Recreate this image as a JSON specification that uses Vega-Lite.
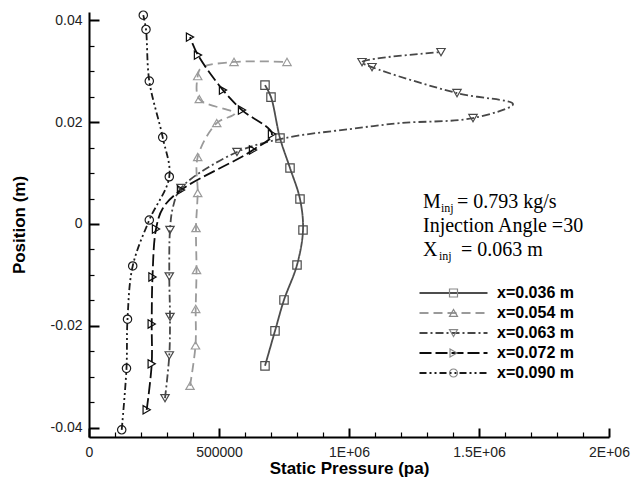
{
  "$schema": "https://vega.github.io/schema/vega-lite/v6.json",
  "autosize": {"type": "none"},
  "padding": {"left": 89, "top": 12, "right": 22, "bottom": 45},
  "width": 520,
  "height": 425,
  "background": "white",
  "config": {
    "view": {"stroke": null},
    "font": "Liberation Sans",
    "axis": {
      "grid": false,
      "domainColor": "#000",
      "domainWidth": 2,
      "tickColor": "#000",
      "labelColor": "#222",
      "labelFont": "Liberation Sans",
      "labelFontSize": 14,
      "labelOverlap": false,
      "labelFlush": false,
      "labelBound": false,
      "titleFont": "Liberation Sans",
      "titleFontSize": 17,
      "titleFontWeight": "bold",
      "titleColor": "#000"
    }
  },
  "resolve": {"axis": {"x": "independent", "y": "independent"}},
  "datasets": {
    "profiles": [
      {"s": "x=0.036 m", "i": 1, "p": 676900, "y": -0.02784, "m": 1},
      {"s": "x=0.036 m", "i": 2, "p": 715400, "y": -0.02098, "m": 1},
      {"s": "x=0.036 m", "i": 3, "p": 750000, "y": -0.0149, "m": 1},
      {"s": "x=0.036 m", "i": 4, "p": 800000, "y": -0.00804, "m": 1},
      {"s": "x=0.036 m", "i": 5, "p": 823100, "y": -0.00118, "m": 1},
      {"s": "x=0.036 m", "i": 6, "p": 811500, "y": 0.0049, "m": 1},
      {"s": "x=0.036 m", "i": 7, "p": 773100, "y": 0.01098, "m": 1},
      {"s": "x=0.036 m", "i": 8, "p": 734600, "y": 0.01686, "m": 1},
      {"s": "x=0.036 m", "i": 9, "p": 700000, "y": 0.0249, "m": 1},
      {"s": "x=0.036 m", "i": 10, "p": 676900, "y": 0.02725, "m": 1},

      {"s": "x=0.054 m", "i": 1, "p": 388500, "y": -0.03176, "m": 1},
      {"s": "x=0.054 m", "i": 2, "p": 409600, "y": -0.02382, "m": 1},
      {"s": "x=0.054 m", "i": 3, "p": 410400, "y": -0.01667, "m": 1},
      {"s": "x=0.054 m", "i": 4, "p": 413500, "y": -0.00902, "m": 1},
      {"s": "x=0.054 m", "i": 5, "p": 411500, "y": -0.00078, "m": 1},
      {"s": "x=0.054 m", "i": 6, "p": 418100, "y": 0.00608, "m": 1},
      {"s": "x=0.054 m", "i": 7, "p": 418100, "y": 0.01314, "m": 1},
      {"s": "x=0.054 m", "i": 8, "p": 491200, "y": 0.0198, "m": 1},
      {"s": "x=0.054 m", "i": 9, "p": 560000, "y": 0.0217, "m": 0},
      {"s": "x=0.054 m", "i": 10, "p": 424200, "y": 0.02451, "m": 1},
      {"s": "x=0.054 m", "i": 11, "p": 418100, "y": 0.02902, "m": 1},
      {"s": "x=0.054 m", "i": 12, "p": 430800, "y": 0.03059, "m": 0},
      {"s": "x=0.054 m", "i": 13, "p": 557700, "y": 0.0318, "m": 1},
      {"s": "x=0.054 m", "i": 14, "p": 761500, "y": 0.0318, "m": 1},

      {"s": "x=0.063 m", "i": 1, "p": 292300, "y": -0.03418, "m": 1},
      {"s": "x=0.063 m", "i": 2, "p": 308800, "y": -0.02578, "m": 1},
      {"s": "x=0.063 m", "i": 3, "p": 311500, "y": -0.01824, "m": 1},
      {"s": "x=0.063 m", "i": 4, "p": 308800, "y": -0.01029, "m": 1},
      {"s": "x=0.063 m", "i": 5, "p": 311500, "y": -0.00118, "m": 1},
      {"s": "x=0.063 m", "i": 6, "p": 323100, "y": 0.00333, "m": 0},
      {"s": "x=0.063 m", "i": 7, "p": 353800, "y": 0.00706, "m": 1},
      {"s": "x=0.063 m", "i": 8, "p": 569200, "y": 0.01412, "m": 1},
      {"s": "x=0.063 m", "i": 9, "p": 753800, "y": 0.01686, "m": 0},
      {"s": "x=0.063 m", "i": 10, "p": 1003800, "y": 0.01863, "m": 0},
      {"s": "x=0.063 m", "i": 11, "p": 1196200, "y": 0.0198, "m": 0},
      {"s": "x=0.063 m", "i": 12, "p": 1476900, "y": 0.02078, "m": 1},
      {"s": "x=0.063 m", "i": 13, "p": 1630800, "y": 0.02353, "m": 0},
      {"s": "x=0.063 m", "i": 14, "p": 1415400, "y": 0.02569, "m": 1},
      {"s": "x=0.063 m", "i": 15, "p": 1088500, "y": 0.03078, "m": 1},
      {"s": "x=0.063 m", "i": 16, "p": 1050000, "y": 0.03176, "m": 1},
      {"s": "x=0.063 m", "i": 17, "p": 1353800, "y": 0.03373, "m": 1},

      {"s": "x=0.072 m", "i": 1, "p": 221900, "y": -0.03647, "m": 1},
      {"s": "x=0.072 m", "i": 2, "p": 241200, "y": -0.02745, "m": 1},
      {"s": "x=0.072 m", "i": 3, "p": 241200, "y": -0.01961, "m": 1},
      {"s": "x=0.072 m", "i": 4, "p": 244200, "y": -0.01039, "m": 1},
      {"s": "x=0.072 m", "i": 5, "p": 257700, "y": -0.00098, "m": 1},
      {"s": "x=0.072 m", "i": 6, "p": 284600, "y": 0.00314, "m": 0},
      {"s": "x=0.072 m", "i": 7, "p": 353800, "y": 0.00667, "m": 1},
      {"s": "x=0.072 m", "i": 8, "p": 630800, "y": 0.01451, "m": 1},
      {"s": "x=0.072 m", "i": 9, "p": 703800, "y": 0.01765, "m": 1},
      {"s": "x=0.072 m", "i": 10, "p": 588500, "y": 0.02235, "m": 1},
      {"s": "x=0.072 m", "i": 11, "p": 515400, "y": 0.02627, "m": 1},
      {"s": "x=0.072 m", "i": 12, "p": 419200, "y": 0.03314, "m": 1},
      {"s": "x=0.072 m", "i": 13, "p": 388500, "y": 0.03667, "m": 1},

      {"s": "x=0.090 m", "i": 1, "p": 125800, "y": -0.04039, "m": 1},
      {"s": "x=0.090 m", "i": 2, "p": 144200, "y": -0.02833, "m": 1},
      {"s": "x=0.090 m", "i": 3, "p": 148100, "y": -0.01869, "m": 1},
      {"s": "x=0.090 m", "i": 4, "p": 168100, "y": -0.00824, "m": 1},
      {"s": "x=0.090 m", "i": 5, "p": 231900, "y": 0.00078, "m": 1},
      {"s": "x=0.090 m", "i": 6, "p": 308800, "y": 0.00927, "m": 1},
      {"s": "x=0.090 m", "i": 7, "p": 283500, "y": 0.017, "m": 1},
      {"s": "x=0.090 m", "i": 8, "p": 231900, "y": 0.02804, "m": 1},
      {"s": "x=0.090 m", "i": 9, "p": 219200, "y": 0.03818, "m": 1},
      {"s": "x=0.090 m", "i": 10, "p": 208800, "y": 0.04098, "m": 1}
    ]
  },
  "data": {"name": "profiles"},
  "layer": [
    {
      "mark": {"type": "line", "interpolate": "catmull-rom", "strokeWidth": 1.8},
      "encoding": {
        "x": {
          "field": "p", "type": "quantitative",
          "scale": {"domain": [0, 2000000], "nice": false, "zero": false},
          "axis": {
            "orient": "bottom",
            "title": "Static Pressure (pa)",
            "values": [0, 500000, 1000000, 1500000, 2000000],
            "labelExpr": "datum.value == 0 ? '0' : datum.value == 500000 ? '500000' : (datum.value / 1000000) + 'E+06'",
            "labelFontSize": 14,
            "labelOverlap": false,
            "ticks": false,
            "tickSize": 0,
            "labelPadding": 8,
            "titlePadding": 1
          }
        },
        "y": {
          "field": "y", "type": "quantitative",
          "scale": {"domain": [-0.0418, 0.0416], "nice": false, "zero": false},
          "axis": {
            "orient": "left",
            "title": "Position (m)",
            "values": [-0.04, -0.02, 0, 0.02, 0.04],
            "labelExpr": "replace(format(datum.value, ''), '\u2212', '-')",
            "labelFontSize": 14,
            "labelOverlap": false,
            "ticks": false,
            "tickSize": 0,
            "labelPadding": 7,
            "titlePadding": 22
          }
        },
        "order": {"field": "i", "type": "quantitative"},
        "color": {
          "field": "s", "type": "nominal",
          "scale": {
            "domain": ["x=0.036 m", "x=0.054 m", "x=0.063 m", "x=0.072 m", "x=0.090 m"],
            "range": ["#4d4d4d", "#9a9a9a", "#474747", "#0d0d0d", "#1a1a1a"]
          },
          "legend": {
            "orient": "none", "legendX": 356.5, "legendY": 273, "padding": 0,
            "title": null, "symbolType": "M-8.5,0H8.5", "symbolSize": 64, "symbolStrokeWidth": 1.8,
            "labelFont": "Liberation Sans", "labelFontSize": 16, "labelFontWeight": "bold",
            "labelColor": "#000", "labelOffset": 35.5, "rowPadding": 4, "labelLimit": 0
          }
        },
        "strokeDash": {
          "field": "s", "type": "nominal",
          "scale": {
            "domain": ["x=0.036 m", "x=0.054 m", "x=0.063 m", "x=0.072 m", "x=0.090 m"],
            "range": [[1, 0], [9, 5], [8, 3, 2, 3], [12, 4], [7, 3, 2, 3, 2, 3]]
          },
          "legend": {
            "orient": "none", "legendX": 356.5, "legendY": 273, "padding": 0,
            "title": null, "symbolType": "M-8.5,0H8.5", "symbolSize": 64, "symbolStrokeWidth": 1.8,
            "labelFont": "Liberation Sans", "labelFontSize": 16, "labelFontWeight": "bold",
            "labelColor": "#000", "labelOffset": 35.5, "rowPadding": 4, "labelLimit": 0
          }
        }
      }
    },
    {
      "transform": [{"filter": "datum.m == 1"}],
      "mark": {"type": "point", "filled": false, "strokeWidth": 1.2, "size": 70, "opacity": 1},
      "encoding": {
        "x": {
          "field": "p", "type": "quantitative",
          "axis": {
            "orient": "top", "offset": -425, "title": null, "labels": false, "domain": false,
            "values": [0, 500000, 1000000, 1500000, 2000000],
            "tickSize": 9, "tickWidth": 2
          }
        },
        "y": {
          "field": "y", "type": "quantitative",
          "axis": {
            "orient": "right", "offset": -520, "title": null, "labels": false, "domain": false,
            "values": [-0.04, -0.02, 0, 0.02, 0.04],
            "tickSize": 10, "tickWidth": 2
          }
        },
        "color": {"field": "s", "type": "nominal"},
        "shape": {
          "field": "s", "type": "nominal",
          "scale": {"range": ["square", "triangle-up", "triangle-down", "triangle-right", "circle"]},
          "legend": {
            "orient": "none", "legendX": 356.5, "legendY": 273, "padding": 0,
            "title": null, "symbolSize": 64, "symbolStrokeWidth": 1.2,
            "symbolFillColor": "transparent",
            "labelFont": "Liberation Sans", "labelFontSize": 16, "labelFontWeight": "bold",
            "labelOpacity": 0, "labelOffset": 35.5, "rowPadding": 4, "labelLimit": 0,
            "encode": {"symbols": {"stroke": {"value": {"expr": "scale('color', datum.value)"}}, "fill": {"value": "transparent"}}}
          }
        }
      }
    },
    {
      "data": {"values": [{}]},
      "mark": {"type": "text", "align": "left", "baseline": "alphabetic", "font": "Liberation Serif", "fontSize": 20, "color": "#000", "text": "M"},
      "encoding": {
        "x": {
          "datum": 1284600, "type": "quantitative",
          "axis": {
            "orient": "top", "offset": -425, "title": null, "labels": false, "domain": false,
            "values": [100000, 200000, 300000, 400000, 600000, 700000, 800000, 900000, 1100000, 1200000, 1300000, 1400000, 1600000, 1700000, 1800000, 1900000],
            "tickSize": 5, "tickWidth": 1.2
          }
        },
        "y": {
          "datum": 0.00314, "type": "quantitative",
          "axis": {
            "orient": "right", "offset": -520, "title": null, "labels": false, "domain": false,
            "values": [-0.035, -0.03, -0.025, -0.015, -0.01, -0.005, 0.005, 0.01, 0.015, 0.025, 0.03, 0.035],
            "tickSize": 5, "tickWidth": 1.2
          }
        }
      }
    },
    {
      "data": {"values": [{}]},
      "mark": {"type": "text", "align": "left", "baseline": "alphabetic", "font": "Liberation Serif", "fontSize": 12, "color": "#000", "text": "inj", "dx": 18, "dy": 4},
      "encoding": {"x": {"datum": 1284600, "type": "quantitative", "axis": null}, "y": {"datum": 0.00314, "type": "quantitative", "axis": null}}
    },
    {
      "data": {"values": [{}]},
      "mark": {"type": "text", "align": "left", "baseline": "alphabetic", "font": "Liberation Serif", "fontSize": 20, "color": "#000", "text": "= 0.793 kg/s", "dx": 34},
      "encoding": {"x": {"datum": 1284600, "type": "quantitative", "axis": null}, "y": {"datum": 0.00314, "type": "quantitative", "axis": null}}
    },
    {
      "data": {"values": [{}]},
      "mark": {"type": "text", "align": "left", "baseline": "alphabetic", "font": "Liberation Serif", "fontSize": 20, "color": "#000", "text": "Injection Angle =30"},
      "encoding": {"x": {"datum": 1284600, "type": "quantitative", "axis": null}, "y": {"datum": -0.00157, "type": "quantitative", "axis": null}}
    },
    {
      "data": {"values": [{}]},
      "mark": {"type": "text", "align": "left", "baseline": "alphabetic", "font": "Liberation Serif", "fontSize": 20, "color": "#000", "text": "X"},
      "encoding": {"x": {"datum": 1284600, "type": "quantitative", "axis": null}, "y": {"datum": -0.00628, "type": "quantitative", "axis": null}}
    },
    {
      "data": {"values": [{}]},
      "mark": {"type": "text", "align": "left", "baseline": "alphabetic", "font": "Liberation Serif", "fontSize": 12, "color": "#000", "text": "inj", "dx": 16, "dy": 4},
      "encoding": {"x": {"datum": 1284600, "type": "quantitative", "axis": null}, "y": {"datum": -0.00628, "type": "quantitative", "axis": null}}
    },
    {
      "data": {"values": [{}]},
      "mark": {"type": "text", "align": "left", "baseline": "alphabetic", "font": "Liberation Serif", "fontSize": 20, "color": "#000", "text": "=  0.063 m", "dx": 38},
      "encoding": {"x": {"datum": 1284600, "type": "quantitative", "axis": null}, "y": {"datum": -0.00628, "type": "quantitative", "axis": null}}
    }
  ]
}
